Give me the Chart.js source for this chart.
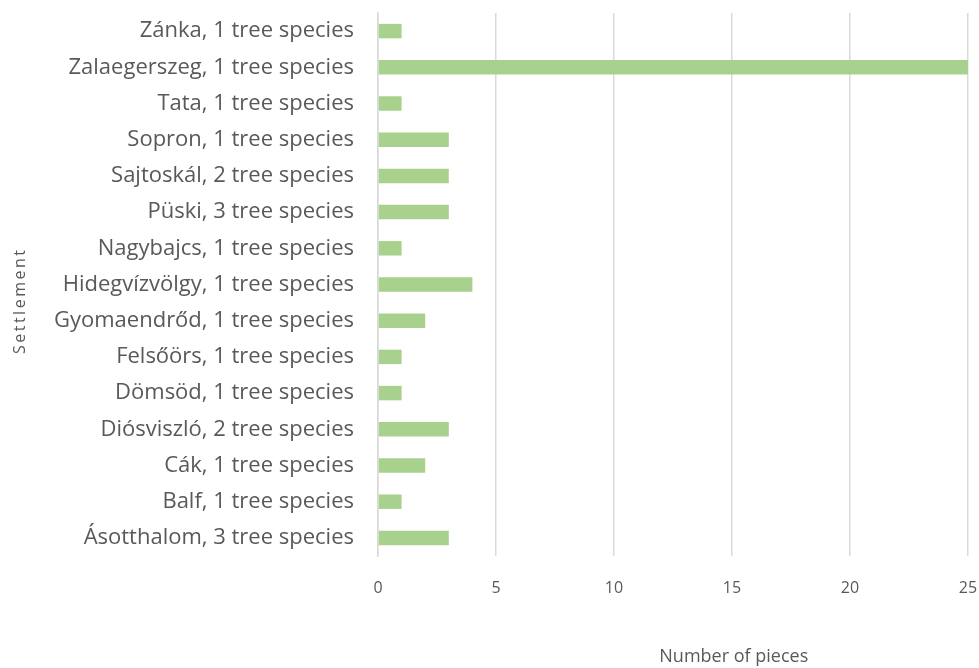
<!DOCTYPE html>
<html>
<head>
<meta charset="utf-8">
<script src="https://cdn.jsdelivr.net/npm/chart.js@4"></script>
<style>
  html, body { margin: 0; padding: 0; background: #fff; }
  #wrap { width: 979px; height: 668px; }
</style>
</head>
<body>
<div id="wrap"><canvas id="chart" width="979" height="668"></canvas></div>
<script>
// settlements, top to bottom as shown
const settlements = [
  'Zánka, 1 tree species',
  'Zalaegerszeg, 1 tree species',
  'Tata, 1 tree species',
  'Sopron, 1 tree species',
  'Sajtoskál, 2 tree species',
  'Püski, 3 tree species',
  'Nagybajcs, 1 tree species',
  'Hidegvízvölgy, 1 tree species',
  'Gyomaendrőd, 1 tree species',
  'Felsőörs, 1 tree species',
  'Dömsöd, 1 tree species',
  'Diósviszló, 2 tree species',
  'Cák, 1 tree species',
  'Balf, 1 tree species',
  'Ásotthalom, 3 tree species'
];
const pieces = [1, 25, 1, 3, 3, 3, 1, 4, 2, 1, 1, 3, 2, 1, 3];
const xTicks = [0, 5, 10, 15, 20, 25];

const FONT = '"Open Sans", sans-serif';

// axis titles drawn by hand so they sit where the original has them
const axisTitles = {
  id: 'axisTitles',
  afterDraw(chart) {
    const ctx = chart.ctx, a = chart.chartArea;
    ctx.save();
    ctx.fillStyle = '#595959';
    ctx.font = '18px ' + FONT;
    ctx.textAlign = 'center';
    ctx.textBaseline = 'middle';
    ctx.fillText('Number of pieces', a.left + a.width * 0.603, 657);
    ctx.translate(20, a.top + a.height * 0.53);
    ctx.rotate(-Math.PI / 2);
    ctx.font = '16px ' + FONT;
    ctx.letterSpacing = '2.5px';
    ctx.fillText('Settlement', 0, 0);
    ctx.restore();
  }
};

new Chart(document.getElementById('chart'), {
  type: 'bar',
  data: {
    labels: settlements,
    datasets: [{
      data: pieces,
      backgroundColor: '#a9d18e',
      borderWidth: 0,
      barPercentage: 0.4,
      categoryPercentage: 1
    }]
  },
  options: {
    indexAxis: 'y',
    responsive: false,
    animation: false,
    events: [],
    layout: { padding: { top: 13, right: 11, bottom: 0, left: 0 } },
    plugins: { legend: { display: false }, tooltip: { enabled: false } },
    scales: {
      x: {
        min: 0, max: 25,
        afterBuildTicks(s) { s.ticks = xTicks.map(v => ({ value: v })); },
        afterFit(s) { s.height = 112; s.paddingLeft = 0; s.paddingRight = 0; },
        grid: { color: '#d9d9d9', lineWidth: 1.5, drawTicks: false },
        border: { display: false },
        ticks: { color: '#595959', font: { family: FONT, size: 16 }, padding: 23 }
      },
      y: {
        afterFit(s) { s.width = 378; s.paddingTop = 0; s.paddingBottom = 0; },
        grid: { display: false, drawTicks: false },
        border: { display: true, color: '#d9d9d9', width: 1.5 },
        ticks: { color: '#595959', font: { family: FONT, size: 22 }, padding: 24, autoSkip: false }
      }
    }
  },
  plugins: [axisTitles]
});
</script>
</body>
</html>
